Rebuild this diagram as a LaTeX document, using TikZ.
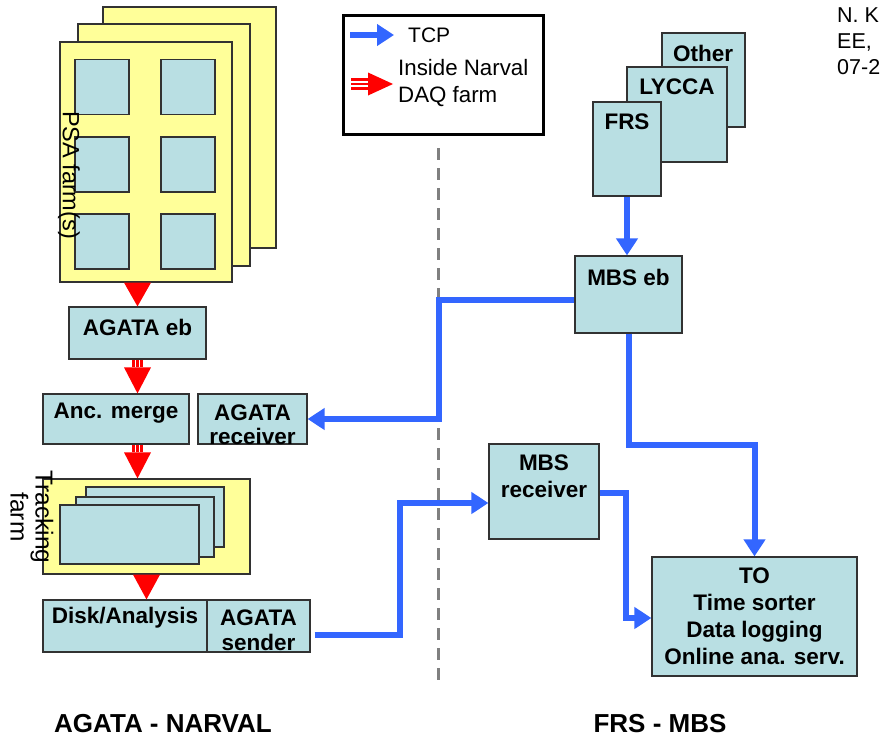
\documentclass[tikz,border=0pt]{standalone}
\usepackage{fontspec}
\setmainfont{Liberation Sans}
\usetikzlibrary{arrows.meta,calc}
\definecolor{boxfill}{RGB}{185,223,227}
\definecolor{farmfill}{RGB}{255,255,153}
\definecolor{boxline}{RGB}{50,50,50}
\definecolor{tcpblue}{RGB}{51,102,255}
\definecolor{arrred}{RGB}{255,0,0}
\definecolor{dashgray}{RGB}{128,128,128}
\newcommand\redhead[2]{\fill[arrred] ($(#1)+(-13.5,0)$) -- ($(#1)+(13.5,0)$) -- (#2) -- cycle;}
\newcommand\redtriple[2]{%
  \foreach \dx in {-4,0,4}{\draw[arrred,line width=2.6pt] ($(#1)+(\dx,0)$) -- ($(#2)+(\dx,0)$);}}
\tikzset{
  box/.style={draw=boxline, fill=boxfill, line width=1.2pt, inner sep=0pt},
  farm/.style={draw=boxline, fill=farmfill, line width=1.2pt, inner sep=0pt},
  lbl/.style={font=\bfseries\fontsize{22.5}{27}\selectfont, align=center, inner sep=0pt},
  plain/.style={font=\fontsize{22}{26}\selectfont, inner sep=0pt},
  tcp/.style={draw=tcpblue, line width=6pt, -{Triangle[width=21pt,length=17pt]}},
  divider/.style={draw=dashgray, line width=3pt, dash pattern=on 12pt off 8pt},
}
\begin{document}
\begin{tikzpicture}[x=1pt,y=-1pt]
\useasboundingbox[fill=white] (0,0) rectangle (886,739);

% PSA farm stack
\node[farm, minimum width=173, minimum height=241] (psaback) at (189.5,127.5) {};
\node[farm, minimum width=172, minimum height=242] (psamid) at (164,145) {};
\node[farm, minimum width=172, minimum height=240] (psafront) at (146,162) {};
\foreach \cx/\cy/\nm in {102/87/a,188/87/b,102/164.5/c,188/164.5/d,102/241.5/e,188/241.5/f}{
  \node[box, minimum width=54, minimum height=55] (psa\nm) at (\cx,\cy) {};
}
\node[plain, rotate=-90, font=\fontsize{23.5}{26}\selectfont] (psalbl) at (69,175) {PSA farm(s)};

% AGATA side boxes
\node[box, minimum width=137, minimum height=52] (agataeb) at (137.5,333) {};
\node[lbl] (agataebt) at (137.5,327) {AGATA eb};
\node[box, minimum width=146, minimum height=50] (ancmerge) at (116,419) {};
\node[lbl] (ancmerget) at (116,413) {Anc. merge};
\node[box, minimum width=109, minimum height=50] (agatarecv) at (252.5,419) {};
\node[lbl, font=\bfseries\fontsize{22.5}{24}\selectfont] (agatarecvt) at (252.5,425) {AGATA\\receiver};

% Tracking farm
\node[farm, minimum width=207, minimum height=95] (tracking) at (146.5,526.5) {};
\node[box, minimum width=138, minimum height=60] (trback) at (155,517) {};
\node[box, minimum width=138, minimum height=60] (trmid) at (145,527) {};
\node[box, minimum width=139, minimum height=59] (trfront) at (129.5,534.5) {};
\node[plain, rotate=-90, align=center, font=\fontsize{24.5}{25}\selectfont] (trlbl) at (32,517) {Tracking\\farm};

% Disk / sender
\node[box, minimum width=164, minimum height=52] (disk) at (125,626) {};
\node[lbl] (diskt) at (125,618) {Disk/Analysis};
\node[box, minimum width=103, minimum height=52] (sender) at (258.5,626) {};
\node[lbl, font=\bfseries\fontsize{22.5}{25}\selectfont] (sendert) at (258.5,630.5) {AGATA\\sender};

% FRS stack
\node[box, minimum width=83, minimum height=94] (other) at (703.5,80) {};
\node[lbl] (othert) at (703,53) {Other};
\node[box, minimum width=100, minimum height=95] (lycca) at (677,114.5) {};
\node[lbl] (lyccat) at (677,87) {LYCCA};
\node[box, minimum width=68, minimum height=94] (frs) at (627,149) {};
\node[lbl] (frst) at (627,122) {FRS};

% MBS side
\node[box, minimum width=107, minimum height=77] (mbseb) at (628.5,294.5) {};
\node[lbl] (mbsebt) at (628.5,277) {MBS eb};
\node[box, minimum width=110, minimum height=95] (mbsrecv) at (544,491.5) {};
\node[lbl] (mbsrecvt) at (544,476.5) {MBS\\receiver};
\node[box, minimum width=205, minimum height=119, lbl, draw=boxline, fill=boxfill, line width=1.2pt] (to) at (754.5,616.5) {TO\\Time sorter\\Data logging\\Online ana. serv.};

% Legend
\node[draw=black, line width=3pt, fill=white, minimum width=200, minimum height=119, inner sep=0pt] (legend) at (443,74.5) {};
\coordinate (lt1) at (350,35);
\coordinate (lt2) at (394,35);
\draw[tcp] (lt1) -- (lt2);
\node[plain, anchor=west, font=\fontsize{21}{26}\selectfont] (tcpt) at (408,35) {TCP};
\coordinate (lr1) at (351,84);
\coordinate (lr2) at (368,84);
\coordinate (lr3) at (393,84);
\foreach \dy in {-4.5,0,4.5}{\draw[arrred,line width=2.4pt] ($(lr1)+(0,\dy)$) -- ($(lr2)+(0,\dy)$);}
\fill[arrred] ($(lr2)+(0,-11.5)$) -- ($(lr2)+(0,11.5)$) -- (lr3) -- cycle;
\node[plain, anchor=west, align=left, font=\fontsize{22.3}{27}\selectfont] (narvt) at (398,83.5) {Inside Narval\\DAQ farm};

% Author
\node[plain, anchor=west, align=left, font=\fontsize{21.5}{26}\selectfont] (author) at (837,41) {N. K\\EE,\\07-2};

% Divider
\draw[divider] (438,148) -- (438,686);

% Red arrows
\coordinate (r1top) at (agataeb.north |- psafront.south);
\redhead{r1top}{agataeb.north}
\coordinate (r2tip) at (agataeb.south |- ancmerge.north);
\coordinate (r2top) at ($(r2tip)+(0,-26)$);
\redtriple{agataeb.south}{r2top}
\redhead{r2top}{r2tip}
\coordinate (r3from) at (agataeb.south |- ancmerge.south);
\coordinate (r3tip) at (agataeb.south |- tracking.north);
\coordinate (r3top) at ($(r3tip)+(0,-26)$);
\redtriple{r3from}{r3top}
\redhead{r3top}{r3tip}
\coordinate (r4tip) at (tracking.south |- disk.north);
\redhead{tracking.south}{r4tip}

% TCP connectors
\draw[tcp] (frs.south) -- (frs.south |- mbseb.north);
\coordinate (j1) at (439,300);
\draw[tcp] (mbseb.west |- j1) -- (j1) -- (j1 |- agatarecv.east) -- (agatarecv.east);
\coordinate (s0) at ($(sender.east)+(4,9)$);
\coordinate (j2) at (400,503);
\draw[tcp] (s0) -- (s0 -| j2) -- (j2) -- (j2 -| mbsrecv.west);
\coordinate (m0) at ($(mbsrecv.east)+(0,1.5)$);
\coordinate (j3) at (626,618);
\draw[tcp] (m0) -- (m0 -| j3) -- (j3) -- (j3 -| to.west);
\coordinate (j4) at (628.5,445);
\draw[tcp] (mbseb.south) -- (j4) -- (j4 -| to.north) -- (to.north);

% Bottom labels
\node[lbl, font=\bfseries\fontsize{26}{30}\selectfont] (leftt) at (163,724) {AGATA - NARVAL};
\node[lbl, font=\bfseries\fontsize{26}{30}\selectfont] (rightt) at (660,724) {FRS - MBS};
\end{tikzpicture}
\end{document}
